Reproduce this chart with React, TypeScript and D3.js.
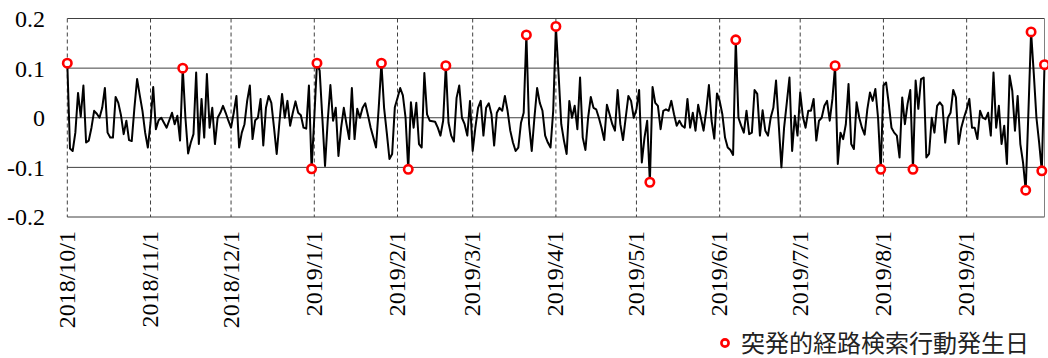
import React from 'react'
import * as d3 from 'd3'

// daily values, one array per month
const oct2018 = [0.110, -0.062, -0.067, -0.030, 0.050, 0.002, 0.065, -0.050, -0.046, -0.020, 0.014, 0.008, 0.000, 0.020, 0.060, -0.030, -0.040, -0.040, 0.042, 0.030, 0.005, -0.033, -0.006, -0.045, -0.047, 0.020, 0.078, 0.045, 0.014, -0.030, -0.060]
const nov2018 = [-0.010, 0.062, -0.023, -0.005, 0.000, -0.010, -0.020, -0.005, 0.010, -0.013, 0.004, -0.046, 0.100, 0.000, -0.072, -0.050, -0.033, 0.091, -0.053, 0.038, -0.040, 0.088, -0.020, 0.020, -0.053, 0.000, 0.010, 0.024, 0.010, -0.006]
const dec2018 = [-0.020, 0.010, 0.044, -0.060, -0.030, -0.013, 0.034, 0.065, -0.043, -0.005, 0.000, 0.038, -0.056, 0.020, 0.044, 0.030, -0.020, -0.073, -0.010, 0.048, 0.000, 0.034, -0.016, 0.010, 0.033, 0.010, 0.005, -0.020, -0.022, 0.065, -0.103]
const jan2019 = [0.000, 0.110, 0.095, 0.000, -0.097, -0.006, 0.066, -0.006, 0.020, -0.077, -0.020, 0.020, -0.013, -0.043, 0.060, -0.043, 0.018, 0.000, 0.020, 0.029, 0.005, -0.020, -0.040, -0.060, 0.020, 0.110, 0.020, -0.030, -0.083, -0.073, 0.021]
const feb2019 = [0.040, 0.060, 0.045, 0.000, -0.104, 0.031, -0.020, 0.030, -0.053, -0.060, 0.090, 0.007, -0.006, -0.007, -0.008, -0.020, -0.036, -0.006, 0.105, -0.010, -0.036, -0.048, 0.040, 0.065, 0.000, -0.013, -0.036, 0.034]
const mar2019 = [-0.067, -0.020, 0.020, 0.034, -0.036, 0.020, 0.029, 0.007, -0.056, 0.010, 0.020, 0.014, 0.044, 0.014, -0.026, -0.050, -0.067, -0.060, -0.010, 0.010, 0.167, -0.013, -0.067, 0.000, 0.060, 0.030, 0.014, -0.036, -0.050, -0.060, 0.014]
const apr2019 = [0.184, 0.088, -0.013, -0.046, -0.073, 0.034, 0.000, 0.024, -0.023, 0.081, -0.040, -0.065, 0.000, 0.042, 0.020, 0.017, 0.000, -0.020, -0.045, 0.026, 0.007, -0.013, -0.026, 0.056, -0.013, -0.045, 0.000, 0.044, 0.034, 0.000]
const may2019 = [0.017, 0.056, -0.090, -0.040, -0.006, -0.130, 0.062, 0.030, 0.024, -0.023, 0.014, 0.017, 0.014, 0.034, 0.007, -0.016, -0.006, -0.016, -0.020, 0.038, -0.020, 0.010, -0.026, 0.026, 0.000, -0.026, 0.014, 0.066, -0.006, -0.042, 0.049]
const jun2019 = [0.034, 0.007, -0.040, -0.060, -0.065, -0.075, 0.157, 0.000, -0.016, -0.030, 0.014, -0.033, -0.030, 0.056, 0.048, -0.036, 0.015, -0.026, -0.036, 0.000, 0.020, 0.075, -0.013, -0.100, -0.020, 0.030, 0.081, -0.067, 0.004, -0.036]
const jul2019 = [0.051, 0.002, -0.020, 0.014, 0.014, 0.038, -0.046, -0.006, 0.000, 0.024, 0.034, -0.006, 0.038, 0.105, -0.093, -0.030, -0.043, -0.013, 0.068, -0.053, -0.063, 0.031, 0.000, -0.020, -0.034, 0.017, 0.051, 0.034, 0.058, 0.000, -0.104]
const aug2019 = [0.065, 0.071, 0.028, -0.020, -0.030, -0.036, -0.080, 0.041, -0.013, 0.028, 0.056, -0.104, 0.075, 0.018, 0.078, 0.081, -0.080, -0.073, 0.000, -0.030, 0.024, 0.031, 0.024, -0.050, 0.000, 0.010, 0.056, 0.041, -0.053, -0.020, 0.000]
const sep2019 = [0.017, 0.038, -0.020, -0.020, -0.043, 0.014, 0.000, -0.003, 0.010, -0.036, 0.091, -0.020, 0.024, -0.053, -0.016, -0.093, 0.085, 0.054, -0.026, 0.044, -0.053, -0.090, -0.146, 0.010, 0.173, 0.090, 0.000, -0.050, -0.107, 0.107]

const monthlyValues = [oct2018, nov2018, dec2018, jan2019, feb2019, mar2019, apr2019, may2019, jun2019, jul2019, aug2019, sep2019]

// days with a burst (red markers)
const burstDays = ['2018-10-01', '2018-11-13', '2018-12-31', '2019-01-02', '2019-01-26', '2019-02-05', '2019-02-19', '2019-03-21', '2019-04-01', '2019-05-06', '2019-06-07', '2019-07-14', '2019-07-31', '2019-08-12', '2019-09-23', '2019-09-25', '2019-09-29', '2019-09-30']

const monthLabels = ['2018/10/1', '2018/11/1', '2018/12/1', '2019/1/1', '2019/2/1', '2019/3/1', '2019/4/1', '2019/5/1', '2019/6/1', '2019/7/1', '2019/8/1', '2019/9/1']
const yTicks = [-0.2, -0.1, 0, 0.1, 0.2]
const yTickLabels = ['-0.2', '-0.1', '0', '0.1', '0.2']
const legendLabel = '突発的経路検索行動発生日'

const startDate = new Date(2018, 9, 1)
const endDate = new Date(2019, 8, 30)

const serif = 'Liberation Serif, Times New Roman, serif'

interface Pt {
  date: Date
  value: number
}

function App() {
  const series: Pt[] = monthlyValues.flat().map((v, i) => ({date: d3.timeDay.offset(startDate, i), value: v}))
  const parse = d3.timeParse('%Y-%m-%d')
  const bursts = burstDays.map(s => series[d3.timeDay.count(startDate, parse(s) as Date)])

  const x = d3.scaleTime().domain([startDate, endDate]).range([67.3, 1044.5])
  const y = d3.scaleLinear().domain([-0.2, 0.2]).range([217, 18.5])
  const line = d3
    .line<Pt>()
    .x(d => x(d.date))
    .y(d => y(d.value))
  const months = d3.timeMonth.range(startDate, endDate)
  const [x0, x1] = x.range()

  return (
    <svg width={1048} height={358} style={{position: 'absolute', left: 0, top: 0, background: '#fff'}}>
      {/* horizontal grid + frame */}
      {yTicks.map(t => (
        <line key={t} x1={x0} x2={x1} y1={y(t)} y2={y(t)} stroke="#404040" strokeWidth={1} />
      ))}
      <line x1={x1} x2={x1} y1={y(0.2)} y2={y(-0.2)} stroke="#808080" strokeWidth={1} />
      {months.map((m, i) => (
        <line key={i} x1={x(m)} x2={x(m)} y1={y(0.2)} y2={y(-0.2)} stroke="#404040" strokeWidth={1} strokeDasharray="4,3" />
      ))}
      {yTicks.map((t, i) => (
        <text key={t} x={45} y={y(t)} dy="0.35em" textAnchor="end" fontFamily={serif} fontSize={24} fill="#000">
          {yTickLabels[i]}
        </text>
      ))}
      {months.map((m, i) => (
        <text key={i} transform={`translate(${x(m) + 7.5},231) rotate(-90)`} textAnchor="end" fontFamily={serif} fontSize={24} fill="#000">
          {monthLabels[i]}
        </text>
      ))}
      <path d={line(series) ?? ''} fill="none" stroke="#000" strokeWidth={2} strokeLinejoin="round" />
      {bursts.map((d, i) => (
        <circle key={i} cx={x(d.date)} cy={y(d.value)} r={4.2} fill="#fff" stroke="#f00" strokeWidth={2.6} />
      ))}
      <circle cx={725} cy={343} r={3.6} fill="#fff" stroke="#f00" strokeWidth={2.6} />
      <text x={741} y={344} dy="0.35em" fontFamily="Noto Sans CJK JP, sans-serif" fontSize={24} fill="#222">
        {legendLabel}
      </text>
    </svg>
  )
}

export default App
